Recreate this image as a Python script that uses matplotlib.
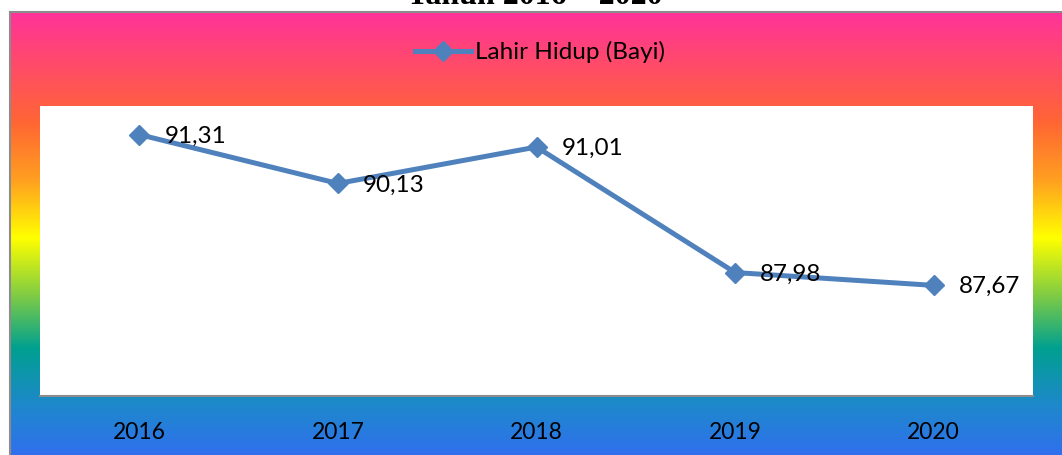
import numpy as np
import matplotlib
matplotlib.use("Agg")
import matplotlib.pyplot as plt
from matplotlib.colors import LinearSegmentedColormap

# data
tahun = ['2016', '2017', '2018', '2019', '2020']
lahir_hidup = [91.31, 90.13, 91.01, 87.98, 87.67]
label_nilai = ['91,31', '90,13', '91,01', '87,98', '87,67']

W, H = 1062, 455
plt.rcParams['font.family'] = ['Lato', 'DejaVu Sans']

fig = plt.figure(figsize=(W / 100, H / 100), dpi=100)
fig.patch.set_facecolor('white')

# rainbow background of chart area
bg = fig.add_axes([10 / W, 0, 1 - 10 / W, (H - 12) / H])
stops = [(0.00, '#FF3399'), (0.25, '#FF6633'), (0.38, '#FFA020'),
         (0.51, '#FFFF00'), (0.64, '#80CC44'), (0.76, '#00A090'),
         (0.89, '#1E88CC'), (1.00, '#3070EE')]
cmap = LinearSegmentedColormap.from_list('rainbow_excel', stops)
grad = np.linspace(0, 1, 256).reshape(-1, 1)
bg.imshow(grad, cmap=cmap, aspect='auto', extent=[0, 1, 1, 0])
bg.set_xticks([])
bg.set_yticks([])
for s in ['right', 'bottom']:
    bg.spines[s].set_visible(False)
for s in ['left', 'top']:
    bg.spines[s].set_color('#8C8C8C')
    bg.spines[s].set_linewidth(1.5)

# plot area
ax = fig.add_axes([40 / W, (H - 396) / H, 993 / W, 290 / H])
ax.set_facecolor('white')
x = np.arange(len(tahun))
ax.plot(x, lahir_hidup, color='#4F81BD', lw=3.6, marker='D', ms=10,
        label='Lahir Hidup (Bayi)')
for xi, yi, t in zip(x, lahir_hidup, label_nilai):
    ax.annotate(t, (xi, yi), xytext=(18, -1), textcoords='offset points',
                ha='left', va='center', fontsize=17.5, color='black')
ax.set_xlim(-0.5, len(tahun) - 0.5)
ax.set_ylim(85, 92)
ax.set_yticks([])
ax.set_xticks(x)
ax.set_xticklabels(tahun, fontsize=16.5)
ax.tick_params(axis='x', length=0, pad=19)
for s in ['left', 'right', 'top']:
    ax.spines[s].set_visible(False)
ax.spines['bottom'].set_color('#8C8C8C')
ax.spines['bottom'].set_linewidth(1.5)

ax.legend(loc='center', bbox_to_anchor=(540 / W, 1 - 52 / H),
          bbox_transform=fig.transFigure, frameon=False, fontsize=17.5,
          handlelength=2.3, handletextpad=0.16)

# title, mostly cut off at the top
fig.text(535 / W, 1 - 4 / H, 'Tahun 2016 \u2013 2020', ha='center',
         va='baseline', fontsize=23, fontweight='bold',
         family=['Liberation Serif', 'DejaVu Serif'])

fig.savefig('out.png', dpi=100)
